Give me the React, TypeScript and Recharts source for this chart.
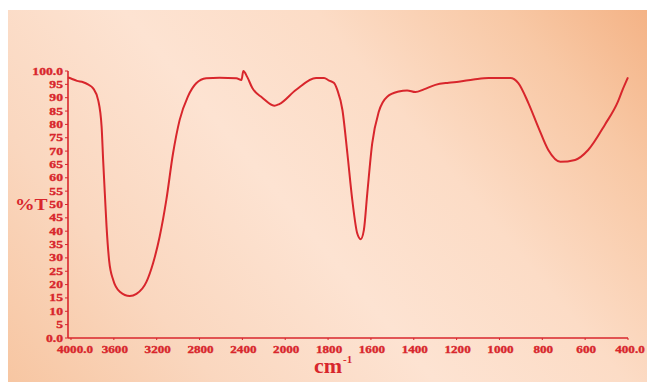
import React from "react";
import { LineChart, Line, XAxis, YAxis } from "recharts";

// wavenumber (cm-1) and %T readings
const wavenumbers = [
  4028, 4000, 3944, 3886, 3842, 3793, 3746, 3714, 3700, 3684, 3668, 3644, 3606, 3544, 3451, 3389, 3296,
  3234, 3172, 3110, 3048, 2986, 2909, 2831, 2738, 2614, 2456, 2409, 2391, 2354, 2307, 2214, 2102,
  2056, 1949, 1856, 1819, 1795, 1772, 1757, 1733, 1710, 1687, 1664, 1648, 1633, 1617, 1594, 1563,
  1524, 1470, 1431, 1392, 1353, 1299, 1237, 1191, 1121, 1051, 949, 912, 865, 819, 772, 716, 647,
  586, 507, 447, 425, 400,
];
const transmittance = [
  97.6, 97.2, 96.3, 95.8, 95.0, 93.5, 89.0, 79.0, 66.7, 54.0, 41.7, 29.0, 21.7, 17.3, 15.7, 16.5, 21.0,
  28.0, 38.0, 51.7, 69.0, 81.6, 90.4, 95.4, 97.3, 97.5, 97.3, 96.6, 100.0, 97.7, 93.6, 90.0, 87.0,
  87.6, 93.0, 97.4, 97.4, 96.4, 95.5, 92.9, 85.4, 69.2, 51.7, 39.2, 37.0, 40.4, 54.2, 72.9, 84.8,
  90.4, 92.3, 92.7, 92.1, 93.1, 94.8, 95.6, 96.0, 96.8, 97.4, 97.4, 95.5, 88.0, 79.0, 70.4, 66.0,
  66.7, 70.4, 80.0, 88.5, 93.0, 97.6,
];
const xTickValues = [4000, 3600, 3200, 2800, 2400, 2000, 1800, 1600, 1400, 1200, 1000, 800, 600, 400];
const xTickLabels = ["4000.0", "3600", "3200", "2800", "2400", "2000", "1800", "1600", "1400", "1200", "1000", "800", "600", "400.0"];
const yTickValues = [0, 5, 10, 15, 20, 25, 30, 35, 40, 45, 50, 55, 60, 65, 70, 75, 80, 85, 90, 95, 100];
const yTickLabels = ["0.0", "5", "10", "15", "20", "25", "30", "35", "40", "45", "50", "55", "60", "65", "70", "75", "80", "85", "90", "95", "100.0"];

// IR split axis: 400 cm-1 per unit above 2000, 200 cm-1 per unit below
const toU = (w: number) => (w >= 2000 ? (4000 - w) / 400 : 5 + (2000 - w) / 200);

const data = wavenumbers.map((w, i) => ({ u: toU(w), t: transmittance[i] }));
const xTicks = xTickValues.map(toU);

const RED = "#d8262c";
const FONT = "'Liberation Serif', 'Times New Roman', serif";

const XTick = (props: any) => {
  const { x, y, payload } = props;
  const idx = xTicks.findIndex((v) => Math.abs(v - payload.value) < 1e-6);
  const label = idx >= 0 ? xTickLabels[idx] : "";
  const dx = idx === 0 ? 4 : idx === xTicks.length - 1 ? 2 : 1;
  return (
    <g transform={`translate(${x + dx},${y + 11}) scale(1.25,1)`}>
      <text x={0} y={0} textAnchor="middle" fill={RED} stroke={RED} strokeWidth={0.35} fontFamily={FONT} fontWeight="bold" fontSize={10.5}>
        {label}
      </text>
    </g>
  );
};

const YTick = (props: any) => {
  const { x, y, payload } = props;
  const idx = yTickValues.indexOf(payload.value);
  const label = idx >= 0 ? yTickLabels[idx] : "";
  return (
    <g transform={`translate(${x},${y + 3.5}) scale(1.3,1)`}>
      <text x={0} y={0} textAnchor="end" fill={RED} stroke={RED} strokeWidth={0.35} fontFamily={FONT} fontWeight="bold" fontSize={10.5}>
        {label}
      </text>
    </g>
  );
};

export default function App() {
  return (
    <div style={{ position: "fixed", left: 0, top: 0, width: 647, height: 382, background: "#ffffff", overflow: "hidden" }}>
      <div
        style={{
          position: "absolute",
          left: 8,
          top: 10,
          width: 639,
          height: 372,
          background:
            "linear-gradient(50deg, #f7c6a2 0%, #fad7bf 22%, #fde3d2 45%, #fcdcc6 65%, #f8c8a5 85%, #f4b386 100%)",
        }}
      >
        <LineChart
          width={639}
          height={372}
          data={data}
          margin={{ top: 61, right: 19, bottom: 16, left: 0 }}
          style={{ overflow: "visible" }}
        >
          <XAxis
            dataKey="u"
            type="number"
            domain={[-0.07, 13]}
            ticks={xTicks}
            tick={<XTick />}
            tickSize={2}
            tickLine={{ stroke: RED }}
            axisLine={{ stroke: RED, strokeWidth: 1.6 }}
            height={28}
            interval={0}
          />
          <YAxis
            type="number"
            domain={[0, 100]}
            ticks={yTickValues}
            tick={<YTick />}
            tickSize={3}
            tickLine={{ stroke: RED }}
            axisLine={{ stroke: RED, strokeWidth: 1.6 }}
            width={60}
            interval={0}
          />
          <Line
            type="monotone"
            dataKey="t"
            stroke={RED}
            strokeWidth={2}
            dot={false}
            isAnimationActive={false}
          />
        </LineChart>
        <div
          style={{
            position: "absolute",
            left: 7,
            top: 185,
            color: RED,
            fontFamily: FONT,
            fontWeight: "bold",
            fontSize: 17,
            transform: "scaleX(1.15)",
            transformOrigin: "left top",
          }}
        >
          %T
        </div>
        <div
          style={{
            position: "absolute",
            left: 306,
            top: 348,
            color: RED,
            fontFamily: FONT,
            fontWeight: "bold",
            fontSize: 20,
            lineHeight: "16px",
            whiteSpace: "nowrap",
            transform: "scaleX(1.1)",
            transformOrigin: "left top",
          }}
        >
          cm
        </div>
        <div
          style={{
            position: "absolute",
            left: 335,
            top: 344,
            color: RED,
            fontFamily: FONT,
            fontWeight: "bold",
            fontSize: 11,
            lineHeight: "10px",
            whiteSpace: "nowrap",
          }}
        >
          -1
        </div>
      </div>
    </div>
  );
}
